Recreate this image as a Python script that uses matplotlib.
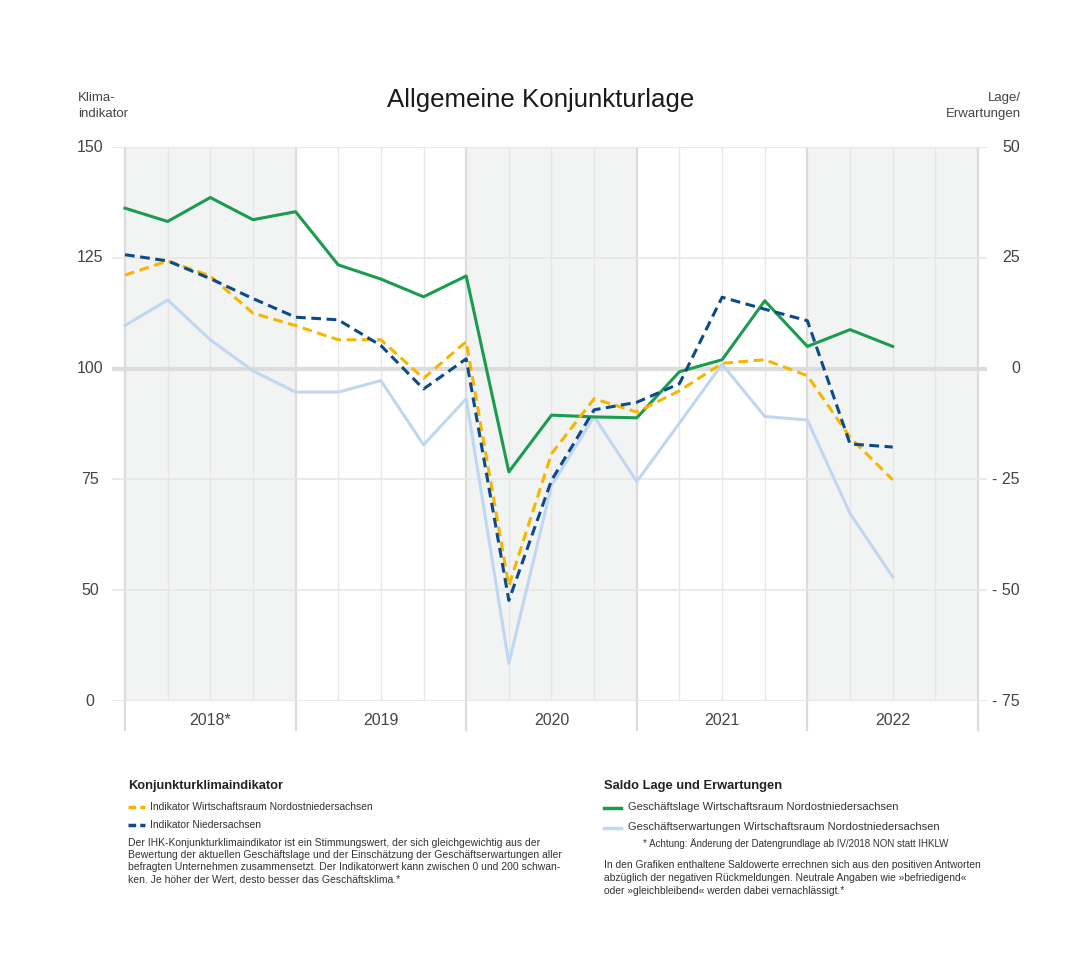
import numpy as np
import matplotlib.pyplot as plt
from matplotlib.lines import Line2D

plt.rcParams['font.family'] = ['Liberation Sans', 'DejaVu Sans']

# Quartale I/2018 bis III/2022
jahre = ["2018*", "2019", "2020", "2021", "2022"]

# Saldo (rechte Achse)
geschaeftslage = [36.2, 33.2, 38.6, 33.6, 35.4, 23.4, 20.2, 16.2, 20.9,
                  -23.3, -10.5, -10.9, -11.1, -0.7, 2.0, 15.3, 5.0, 8.8, 5.0]
erwartungen = [9.7, 15.5, 6.5, -0.5, -5.3, -5.3, -2.7, -17.2, -6.8,
               -66.5, -26.4, -10.8, -25.5, -12.3, 1.0, -10.8, -11.6, -32.7, -47.0]

# Klimaindikator (linke Achse)
indikator_non = [121.1, 124.3, 120.9, 112.5, 109.7, 106.5, 106.5, 97.8, 106.1,
                 51.0, 80.8, 93.2, 90.2, 95.0, 101.2, 102.0, 98.4, 84.5, 74.9]
indikator_nds = [125.7, 124.3, 120.3, 115.8, 111.6, 111.0, 105.2, 95.4, 102.2,
                 47.7, 74.8, 90.7, 92.4, 96.6, 116.1, 113.4, 110.8, 83.0, 82.3]

links_ticks = ["0", "50", "75", "100", "125", "150"]
rechts_ticks = ["- 75", "- 50", "- 25", "0", "25", "50"]

W, H = 1071, 960
fig = plt.figure(figsize=(W / 100, H / 100), dpi=100)


def fx(x):
    return x / W


def fy(y):
    return 1 - y / H


ax = fig.add_axes([fx(112), fy(701), fx(987) - fx(112), fy(147) - fy(701)])
x = np.arange(len(geschaeftslage))
u = 20 / 853
ax.set_xlim(-13 * u, 20 + 9 * u)
ax.set_ylim(-75, 50)
for s in ax.spines.values():
    s.set_visible(False)
ax.set_xticks([])
ax.set_yticks([])

# Hintergrund und Raster
for i in range(5):
    if i % 2 == 0:
        ax.axvspan(4 * i, 4 * i + 4, color="#f2f4f3", lw=0, zorder=0)
for q in range(21):
    if q % 4 == 0:
        ax.plot([q, q], [-75, 50], color="#dcdcdc", lw=1.6, zorder=1)
        ax.plot([q, q], [-81.5, -75], color="#dcdcdc", lw=1.6, zorder=1,
                clip_on=False)
    else:
        ax.plot([q, q], [-75, 50], color="#e6e6e6", lw=1.0, zorder=1)
for yv in [-75, -50, -25, 25, 50]:
    ax.axhline(yv, color="#e6e6e6", lw=1.2, zorder=1)
ax.axhline(0, color="#dcdcdc", lw=3, zorder=1)

# Linien
ax.plot(x, erwartungen, color="#bfd7f0", lw=2.2, zorder=3)
ax.plot(x, geschaeftslage, color="#1a9c4f", lw=2.2, zorder=4)
ax.plot(x, np.array(indikator_non) - 100, color="#f7b500", lw=2.2,
        dashes=(3.2, 1.8), zorder=5)
ax.plot(x, np.array(indikator_nds) - 100, color="#0d4a88", lw=2.2,
        dashes=(3.2, 1.8), zorder=6)

# Achsenbeschriftungen
tick_pos = [-75, -50, -25, 0, 25, 50]
for yv, lab in zip(tick_pos, links_ticks):
    ax.text(-0.82, yv, lab, ha="center", va="center", fontsize=11.5,
            color="#444444", transform=ax.transData)
for yv, lab in zip(tick_pos, rechts_ticks):
    ax.text(20.98, yv, lab, ha="right", va="center", fontsize=11.5,
            color="#444444", transform=ax.transData)
for i, j in enumerate(jahre):
    ax.text(4 * i + 2, -79.5, j, ha="center", va="center", fontsize=11.5,
            color="#444444")

# Titel
fig.text(fx(541), fy(100), "Allgemeine Konjunkturlage", ha="center",
         va="center", fontsize=18.6, color="#1a1a1a")
fig.text(fx(78), fy(106), "Klima-\nindikator", ha="left", va="center",
         fontsize=9.5, color="#444444", linespacing=1.4)
fig.text(fx(1021), fy(106), "Lage/\nErwartungen", ha="right", va="center",
         fontsize=9.5, color="#444444", linespacing=1.4, multialignment="right")

# Legende links
tc = "#333333"
fig.text(fx(128), fy(786), "Konjunkturklimaindikator", fontsize=9.3,
         fontweight="bold", color="#222222", va="center")
for yy, col, lab in [(807, "#f7b500", "Indikator Wirtschaftsraum Nordostniedersachsen"),
                     (825, "#0d4a88", "Indikator Niedersachsen")]:
    fig.add_artist(Line2D([fx(128), fx(145)], [fy(yy), fy(yy)], color=col,
                          lw=2.5, dashes=(2.2, 1.2), transform=fig.transFigure))
    fig.text(fx(150), fy(yy), lab, fontsize=7.4, color=tc, va="center")
fig.text(fx(128), fy(838),
         "Der IHK-Konjunkturklimaindikator ist ein Stimmungswert, der sich gleichgewichtig aus der\n"
         "Bewertung der aktuellen Geschäftslage und der Einschätzung der Geschäftserwartungen aller\n"
         "befragten Unternehmen zusammensetzt. Der Indikatorwert kann zwischen 0 und 200 schwan-\n"
         "ken. Je höher der Wert, desto besser das Geschäftsklima.*",
         fontsize=7.5, color=tc, va="top", linespacing=1.28)

# Legende rechts
fig.text(fx(604), fy(786), "Saldo Lage und Erwartungen", fontsize=9.3,
         fontweight="bold", color="#222222", va="center")
for yy, col, lab in [(807, "#1a9c4f", "Geschäftslage Wirtschaftsraum Nordostniedersachsen"),
                     (827, "#bfd7f0", "Geschäftserwartungen Wirtschaftsraum Nordostniedersachsen")]:
    fig.add_artist(Line2D([fx(604), fx(621)], [fy(yy + 1), fy(yy + 1)], color=col,
                          lw=2.5, transform=fig.transFigure))
    fig.text(fx(628), fy(yy), lab, fontsize=8.0, color=tc, va="center")
fig.text(fx(643), fy(844), "* Achtung: Änderung der Datengrundlage ab IV/2018 NON statt IHKLW",
         fontsize=7.0, color=tc, va="center")
fig.text(fx(604), fy(860),
         "In den Grafiken enthaltene Saldowerte errechnen sich aus den positiven Antworten\n"
         "abzüglich der negativen Rückmeldungen. Neutrale Angaben wie »befriedigend«\n"
         "oder »gleichbleibend« werden dabei vernachlässigt.*",
         fontsize=7.4, color=tc, va="top", linespacing=1.4)

fig.savefig("out.png", dpi=100, facecolor="white")
